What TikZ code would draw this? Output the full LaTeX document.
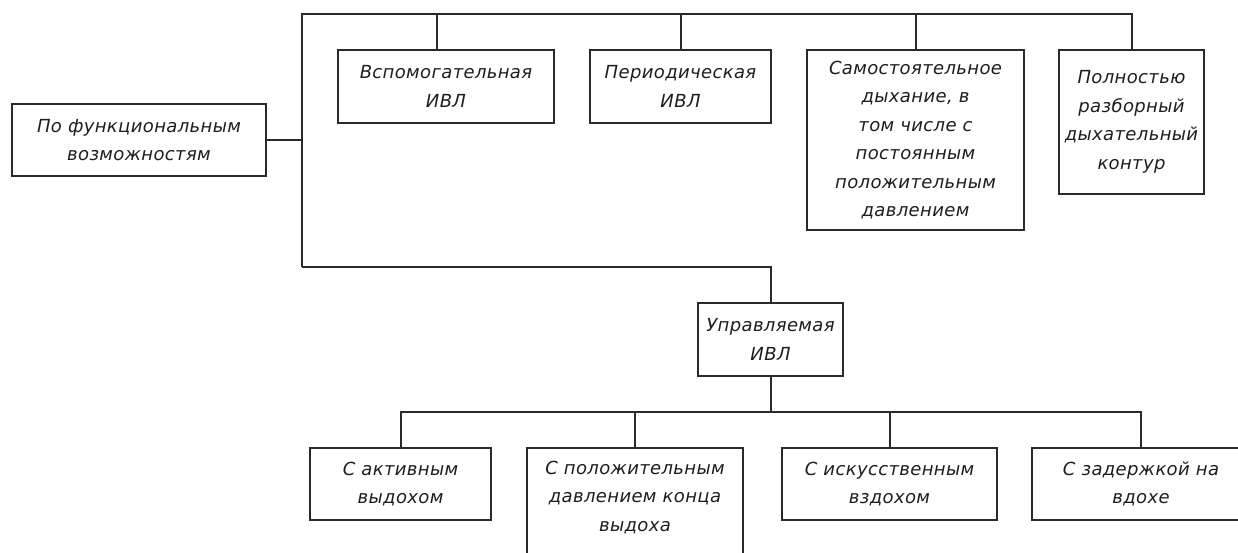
\documentclass[tikz,border=0pt]{standalone}
\usepackage{fontspec}
\setmainfont{DejaVu Sans}
\newfontfamily\gostfont{DejaVu Sans}[LetterSpace=2]
\definecolor{linec}{HTML}{2A2A2A}
\definecolor{textc}{HTML}{1E1E1E}
\begin{document}
\begin{tikzpicture}[x=1pt,y=-1pt,
  box/.style={draw=linec, line width=2pt, align=center, inner sep=0pt, text=textc,
    font={\gostfont\itshape\fontsize{18}{28.5}\selectfont}},
  conn/.style={draw=linec, line width=2pt}]
\useasboundingbox (0,0) rectangle (1238,552);
\fill[white] (0,0) rectangle (1238,552);
\clip (0,0) rectangle (1238,552);
% nodes
\node[box, minimum width=254pt, minimum height=72pt] (root) at (139,140) {По функциональным\\возможностям};
\node[box, minimum width=216pt, minimum height=73pt] (b1) at (446,86.5) {Вспомогательная\\ИВЛ};
\node[box, minimum width=181pt, minimum height=73pt] (b2) at (680.5,86.5) {Периодическая\\ИВЛ};
\node[box, minimum width=217pt, minimum height=180pt] (b3) at (915.5,140) {Самостоятельное\\дыхание, в\\том числе с\\постоянным\\положительным\\давлением};
\node[box, minimum width=145pt, minimum height=144pt] (b4) at (1131.5,122) {Полностью\\разборный\\дыхательный\\контур};
\node[box, minimum width=145pt, minimum height=73pt] (upr) at (770.5,339.5) {Управляемая\\ИВЛ};
\node[box, minimum width=181pt, minimum height=72pt] (l1) at (400.5,484) {С активным\\выдохом};
\node[box, minimum width=216pt, minimum height=124pt] (l2) at (635,510) {};
\node[box, draw=none, anchor=north] (l2t) at (635,460) {С положительным\\давлением конца\\выдоха};
\node[box, minimum width=215pt, minimum height=72pt] (l3) at (889.5,484) {С искусственным\\вздохом};
\node[box, minimum width=218pt, minimum height=72pt] (l4) at (1141,484) {С задержкой на\\вдохе};
% coordinates
\coordinate (tl) at (302,14);
\coordinate (bl) at (302,267);
\coordinate (lb) at (400,412);
% connectors
\draw[conn] (root.east) -- (root.east -| tl);
\draw[conn] (bl) -- (tl) -- (tl -| b4.north) -- (b4.north);
\draw[conn] ([xshift=-9pt]b1.north) -- ([xshift=-9pt]b1.north |- tl);
\draw[conn] (b2.north) -- (b2.north |- tl);
\draw[conn] (b3.north) -- (b3.north |- tl);
\draw[conn] (bl) -- (bl -| upr.north) -- (upr.north);
\draw[conn] (upr.south) -- (upr.south |- lb);
\draw[conn] (l1.north) -- (l1.north |- lb) -- (l4.north |- lb) -- (l4.north);
\draw[conn] (l2.north) -- (l2.north |- lb);
\draw[conn] (l3.north) -- (l3.north |- lb);
\end{tikzpicture}
\end{document}
